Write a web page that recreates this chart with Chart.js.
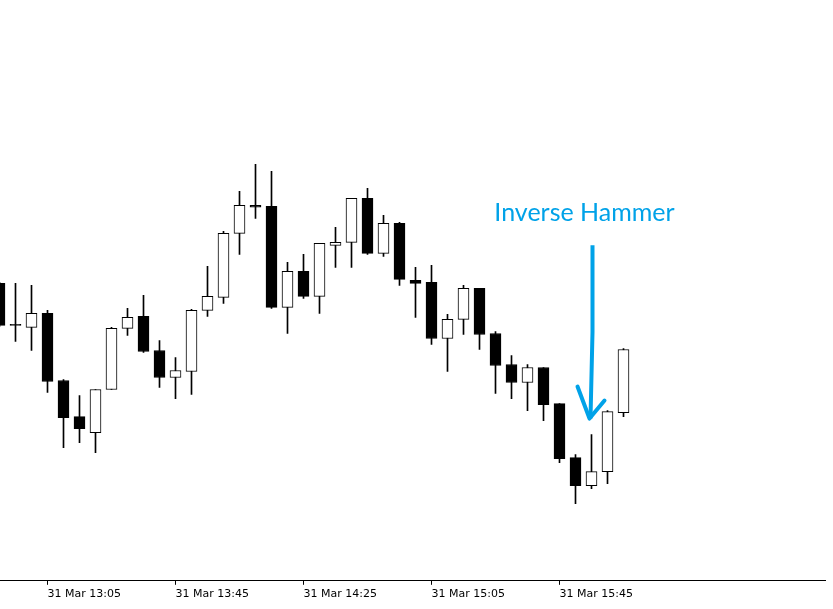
<!DOCTYPE html>
<html>
<head>
<meta charset="utf-8">
<title>Inverse Hammer</title>
<script src="https://cdn.jsdelivr.net/npm/chart.js@4.4.1/dist/chart.umd.min.js"></script>
<style>
    html, body { margin: 0; padding: 0; background: #fff; }
    #chart { display: block; }
</style>
</head>
<body>
<canvas id="chart" width="833" height="609"></canvas>
<script>
// 5 minute candles, 31 Mar
const times = ['12:50', '12:55', '13:00', '13:05', '13:10', '13:15', '13:20', '13:25',
    '13:30', '13:35', '13:40', '13:45', '13:50', '13:55', '14:00', '14:05',
    '14:10', '14:15', '14:20', '14:25', '14:30', '14:35', '14:40', '14:45',
    '14:50', '14:55', '15:00', '15:05', '15:10', '15:15', '15:20', '15:25',
    '15:30', '15:35', '15:40', '15:45', '15:50', '15:55', '16:00', '16:05'];

const open = [1.08097, 1.08056, 1.08053, 1.08067, 1.08000, 1.07964, 1.07948, 1.07991,
    1.08052, 1.08064, 1.08030, 1.08003, 1.08009, 1.08070, 1.08083, 1.08147,
    1.08175, 1.08174, 1.08073, 1.08109, 1.08084, 1.08135, 1.08138, 1.08182,
    1.08127, 1.08157, 1.08100, 1.08098, 1.08042, 1.08061, 1.08092, 1.08047,
    1.08016, 1.07998, 1.08013, 1.07977, 1.07923, 1.07895, 1.07909, 1.07968];

const high = [1.08098, 1.08097, 1.08095, 1.08070, 1.08001, 1.07985, 1.07991, 1.08053,
    1.08072, 1.08085, 1.08040, 1.08023, 1.08071, 1.08114, 1.08149, 1.08189,
    1.08216, 1.08209, 1.08118, 1.08126, 1.08137, 1.08153, 1.08182, 1.08192,
    1.08165, 1.08158, 1.08113, 1.08115, 1.08066, 1.08095, 1.08092, 1.08049,
    1.08025, 1.08016, 1.08013, 1.07977, 1.07926, 1.07946, 1.07970, 1.08032];

const low = [1.08054, 1.08039, 1.08030, 1.07988, 1.07933, 1.07938, 1.07928, 1.07991,
    1.08045, 1.08028, 1.07993, 1.07982, 1.07986, 1.08064, 1.08077, 1.08126,
    1.08162, 1.08072, 1.08047, 1.08082, 1.08067, 1.08113, 1.08113, 1.08126,
    1.08124, 1.08095, 1.08063, 1.08036, 1.08009, 1.08046, 1.08031, 1.07987,
    1.07982, 1.07970, 1.07960, 1.07918, 1.07877, 1.07892, 1.07897, 1.07964];

const close = [1.08055, 1.08055, 1.08067, 1.07999, 1.07963, 1.07952, 1.07991, 1.08052,
    1.08063, 1.08029, 1.08003, 1.08010, 1.08070, 1.08084, 1.08147, 1.08175,
    1.08173, 1.08073, 1.08109, 1.08084, 1.08137, 1.08138, 1.08182, 1.08127,
    1.08157, 1.08101, 1.08097, 1.08042, 1.08061, 1.08092, 1.08046, 1.08015,
    1.07998, 1.08013, 1.07976, 1.07922, 1.07895, 1.07909, 1.07969, 1.08031];

const tickTimes = ['13:05', '13:45', '14:25', '15:05', '15:45'];
const datePrefix = '31 Mar ';

// Pattern callout
const hammer = {
    index: 37,
    text: 'Inverse Hammer',
    labelPrice: 1.08159,
    arrowTop: 1.08135,
    arrowTip: 1.07962
};

const BLUE = '#00a2e8';

// Draws the label and the hand-drawn arrow above the marked candle
const calloutPlugin = {
    id: 'callout',
    afterDatasetsDraw(chart) {
        const { ctx, scales: { x, y } } = chart;
        const cx = x.getPixelForValue(hammer.index);
        const top = y.getPixelForValue(hammer.arrowTop);
        const tip = y.getPixelForValue(hammer.arrowTip);

        ctx.save();
        ctx.strokeStyle = BLUE;
        ctx.fillStyle = BLUE;
        ctx.lineWidth = 4;

        // shaft
        ctx.beginPath();
        ctx.moveTo(cx + 1, top);
        ctx.lineTo(cx + 1, top + (tip - top) * 0.5);
        ctx.lineTo(cx - 1, tip);
        ctx.stroke();

        // head
        ctx.lineCap = 'round';
        ctx.lineJoin = 'round';
        ctx.beginPath();
        ctx.moveTo(cx - 14, tip - 32);
        ctx.lineTo(cx - 2, tip);
        ctx.lineTo(cx + 13, tip - 18);
        ctx.stroke();

        ctx.font = '25px Lato';
        ctx.textAlign = 'center';
        ctx.textBaseline = 'alphabetic';
        ctx.fillText(hammer.text, cx - 7, y.getPixelForValue(hammer.labelPrice));
        ctx.restore();
    }
};

const bodies = times.map((t, i) => ({ x: i, y: [open[i], close[i]] }));
const wicks = times.map((t, i) => ({ x: i, y: [low[i], high[i]] }));
const bodyColors = times.map((t, i) => close[i] > open[i] ? '#ffffff' : '#000000');

new Chart(document.getElementById('chart'), {
    type: 'bar',
    data: {
        datasets: [
            {
                label: 'Body',
                data: bodies,
                backgroundColor: bodyColors,
                borderColor: '#000000',
                borderWidth: 1,
                borderSkipped: false,
                barThickness: 11,
                grouped: false,
                order: 0
            },
            {
                label: 'Wick',
                data: wicks,
                backgroundColor: '#000000',
                borderWidth: 0,
                barThickness: 1,
                grouped: false,
                order: 1
            }
        ]
    },
    options: {
        responsive: false,
        animation: false,
        devicePixelRatio: 1,
        layout: { padding: { left: 0, right: 8, top: 0, bottom: 5 } },
        plugins: {
            legend: { display: false },
            tooltip: { enabled: false }
        },
        scales: {
            x: {
                type: 'linear',
                offset: false,
                min: 0.03125,
                max: 51.59375,
                grid: {
                    offset: false,
                    drawOnChartArea: false,
                    drawTicks: true,
                    tickLength: 4,
                    color: '#000000'
                },
                border: { display: true, color: '#000000', width: 1 },
                ticks: {
                    align: 'start',
                    autoSkip: false,
                    maxRotation: 0,
                    padding: 3,
                    color: '#000000',
                    font: { family: 'DejaVu Sans', size: 11 },
                    callback: (value) => datePrefix + times[value]
                },
                afterBuildTicks: (axis) => {
                    axis.ticks = tickTimes.map(t => ({ value: times.indexOf(t) }));
                }
            },
            y: {
                display: false,
                min: 1.0780,
                max: 1.0838
            }
        }
    },
    plugins: [calloutPlugin]
});
</script>
</body>
</html>
